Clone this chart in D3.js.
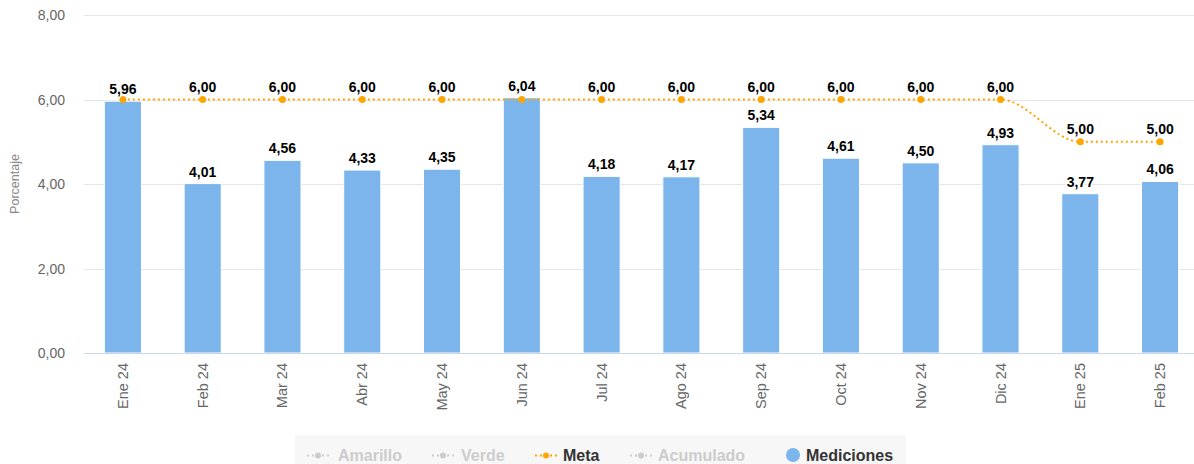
<!DOCTYPE html>
<meta charset="utf-8">
<style>
body { margin: 0; background: #fff; font-family: "Liberation Sans", Arial, sans-serif; }
.grid line { stroke: #e6e6e6; }
.lbl { font-weight: bold; font-size: 14px; fill: #000; text-anchor: middle;
       paint-order: stroke; stroke: #fff; stroke-width: 3px; stroke-linejoin: round; }
</style>
<body>
<script src="https://cdn.jsdelivr.net/npm/d3@7"></script>
<script>

// data
var meses = ["Ene 24", "Feb 24", "Mar 24", "Abr 24", "May 24", "Jun 24", "Jul 24",
             "Ago 24", "Sep 24", "Oct 24", "Nov 24", "Dic 24", "Ene 25", "Feb 25"];
var mediciones = [5.96, 4.01, 4.56, 4.33, 4.35, 6.04, 4.18, 4.17, 5.34, 4.61, 4.50, 4.93, 3.77, 4.06];
var meta = [6, 6, 6, 6, 6, 6, 6, 6, 6, 6, 6, 6, 5, 5];
var yTicks = [0, 2, 4, 6, 8];
var leyenda = ["Amarillo", "Verde", "Meta", "Acumulado", "Mediciones"];

// dimensions of the plot (names avoid window.top etc.)
var W = 1194, H = 464;
var plotL = 83, plotR = 1200, plotT = 15, plotB = 353;

var svg = d3.select("body").append("svg")
    .attr("width", W)
    .attr("height", H);

var x = d3.scaleBand().domain(meses).range([plotL, plotR]).paddingInner(0.535).paddingOuter(0.2675);
var y = d3.scaleLinear().domain([0, 8]).range([plotB, plotT]);
var fmt = function(v) { return d3.format(".2f")(v).replace(".", ","); };
var cx = function(i) { return x(meses[i]) + x.bandwidth() / 2; };

// gridlines + y labels
svg.append("g").attr("class", "grid")
  .selectAll("line").data(yTicks).enter().append("line")
    .attr("x1", 84).attr("x2", W)
    .attr("y1", function(d) { return Math.round(y(d)) + 0.5; })
    .attr("y2", function(d) { return Math.round(y(d)) + 0.5; });

svg.append("g").selectAll("text").data(yTicks).enter().append("text")
    .attr("x", 65).attr("y", function(d) { return y(d) + 5; })
    .attr("text-anchor", "end")
    .style("font-size", "14px").style("fill", "#666")
    .text(fmt);

svg.append("text")
    .attr("transform", "translate(19," + ((plotT + plotB) / 2) + ") rotate(-90)")
    .attr("text-anchor", "middle")
    .style("font-size", "12.5px").style("fill", "#888")
    .text("Porcentaje");

// bars
svg.append("g").selectAll("rect").data(mediciones).enter().append("rect")
    .attr("x", function(d, i) { return x(meses[i]); })
    .attr("y", function(d) { return y(d); })
    .attr("width", x.bandwidth())
    .attr("height", function(d) { return y(0) - y(d); })
    .attr("fill", "#7cb5ec")
    .attr("stroke", "#fff").attr("stroke-width", 1);

// x axis line
svg.append("line")
    .attr("x1", 84).attr("x2", W)
    .attr("y1", Math.round(y(0)) + 0.5).attr("y2", Math.round(y(0)) + 0.5)
    .attr("stroke", "#ccd6eb");

// x labels
svg.append("g").selectAll("text").data(meses).enter().append("text")
    .attr("transform", function(d, i) { return "translate(" + (cx(i) + 5) + ",363) rotate(-90)"; })
    .attr("text-anchor", "end")
    .style("font-size", "14.5px").style("fill", "#666")
    .text(function(d) { return d; });

// meta line
var line = d3.line()
    .x(function(d, i) { return cx(i); })
    .y(function(d) { return y(d); })
    .curve(d3.curveMonotoneX);

svg.append("path").datum(meta)
    .attr("d", line)
    .attr("fill", "none")
    .attr("stroke", "#ffa500")
    .attr("stroke-width", 2)
    .attr("stroke-dasharray", "2,3");

svg.append("g").selectAll("circle").data(meta).enter().append("circle")
    .attr("cx", function(d, i) { return cx(i); })
    .attr("cy", function(d) { return y(d); })
    .attr("r", 3.5)
    .attr("fill", "#ffa500");

// labels
svg.append("g").selectAll("text").data(mediciones).enter().append("text")
    .attr("class", "lbl")
    .attr("x", function(d, i) { return cx(i); })
    .attr("y", function(d) { return y(d) - 7; })
    .text(fmt);

svg.append("g").selectAll("text").data(meta).enter().append("text")
    .attr("class", "lbl")
    .attr("x", function(d, i) { return cx(i); })
    .attr("y", function(d, i) { return y(d) - 8; })
    .text(function(d, i) { return (i === 0 || i === 5) ? "" : fmt(d); });

// legend
var lg = svg.append("g");
lg.append("rect").attr("x", 295).attr("y", 435).attr("width", 611).attr("height", 40)
    .attr("fill", "#f7f7f7");

var lx = [307, 432, 535, 630, 786];
var tx = [338, 461, 563, 658, 806];
leyenda.forEach(function(name, i) {
  var on = (name === "Meta" || name === "Mediciones");
  var col = name === "Meta" ? "#ffa500" : "#ccc";
  if (name === "Mediciones") {
    lg.append("circle").attr("cx", lx[i] + 7).attr("cy", 455).attr("r", 7).attr("fill", "#7cb5ec");
  } else {
    lg.append("line").attr("x1", lx[i]).attr("x2", lx[i] + 22).attr("y1", 455.5).attr("y2", 455.5)
      .attr("stroke", col).attr("stroke-width", 2).attr("stroke-dasharray", "2,3");
    lg.append("circle").attr("cx", lx[i] + 11).attr("cy", 455.5).attr("r", 3).attr("fill", col);
  }
  lg.append("text")
    .attr("x", tx[i]).attr("y", 461)
    .style("font-size", "16px").style("font-weight", "bold")
    .style("fill", on ? "#333" : "#ccc")
    .text(name);
});
</script>
</body>
